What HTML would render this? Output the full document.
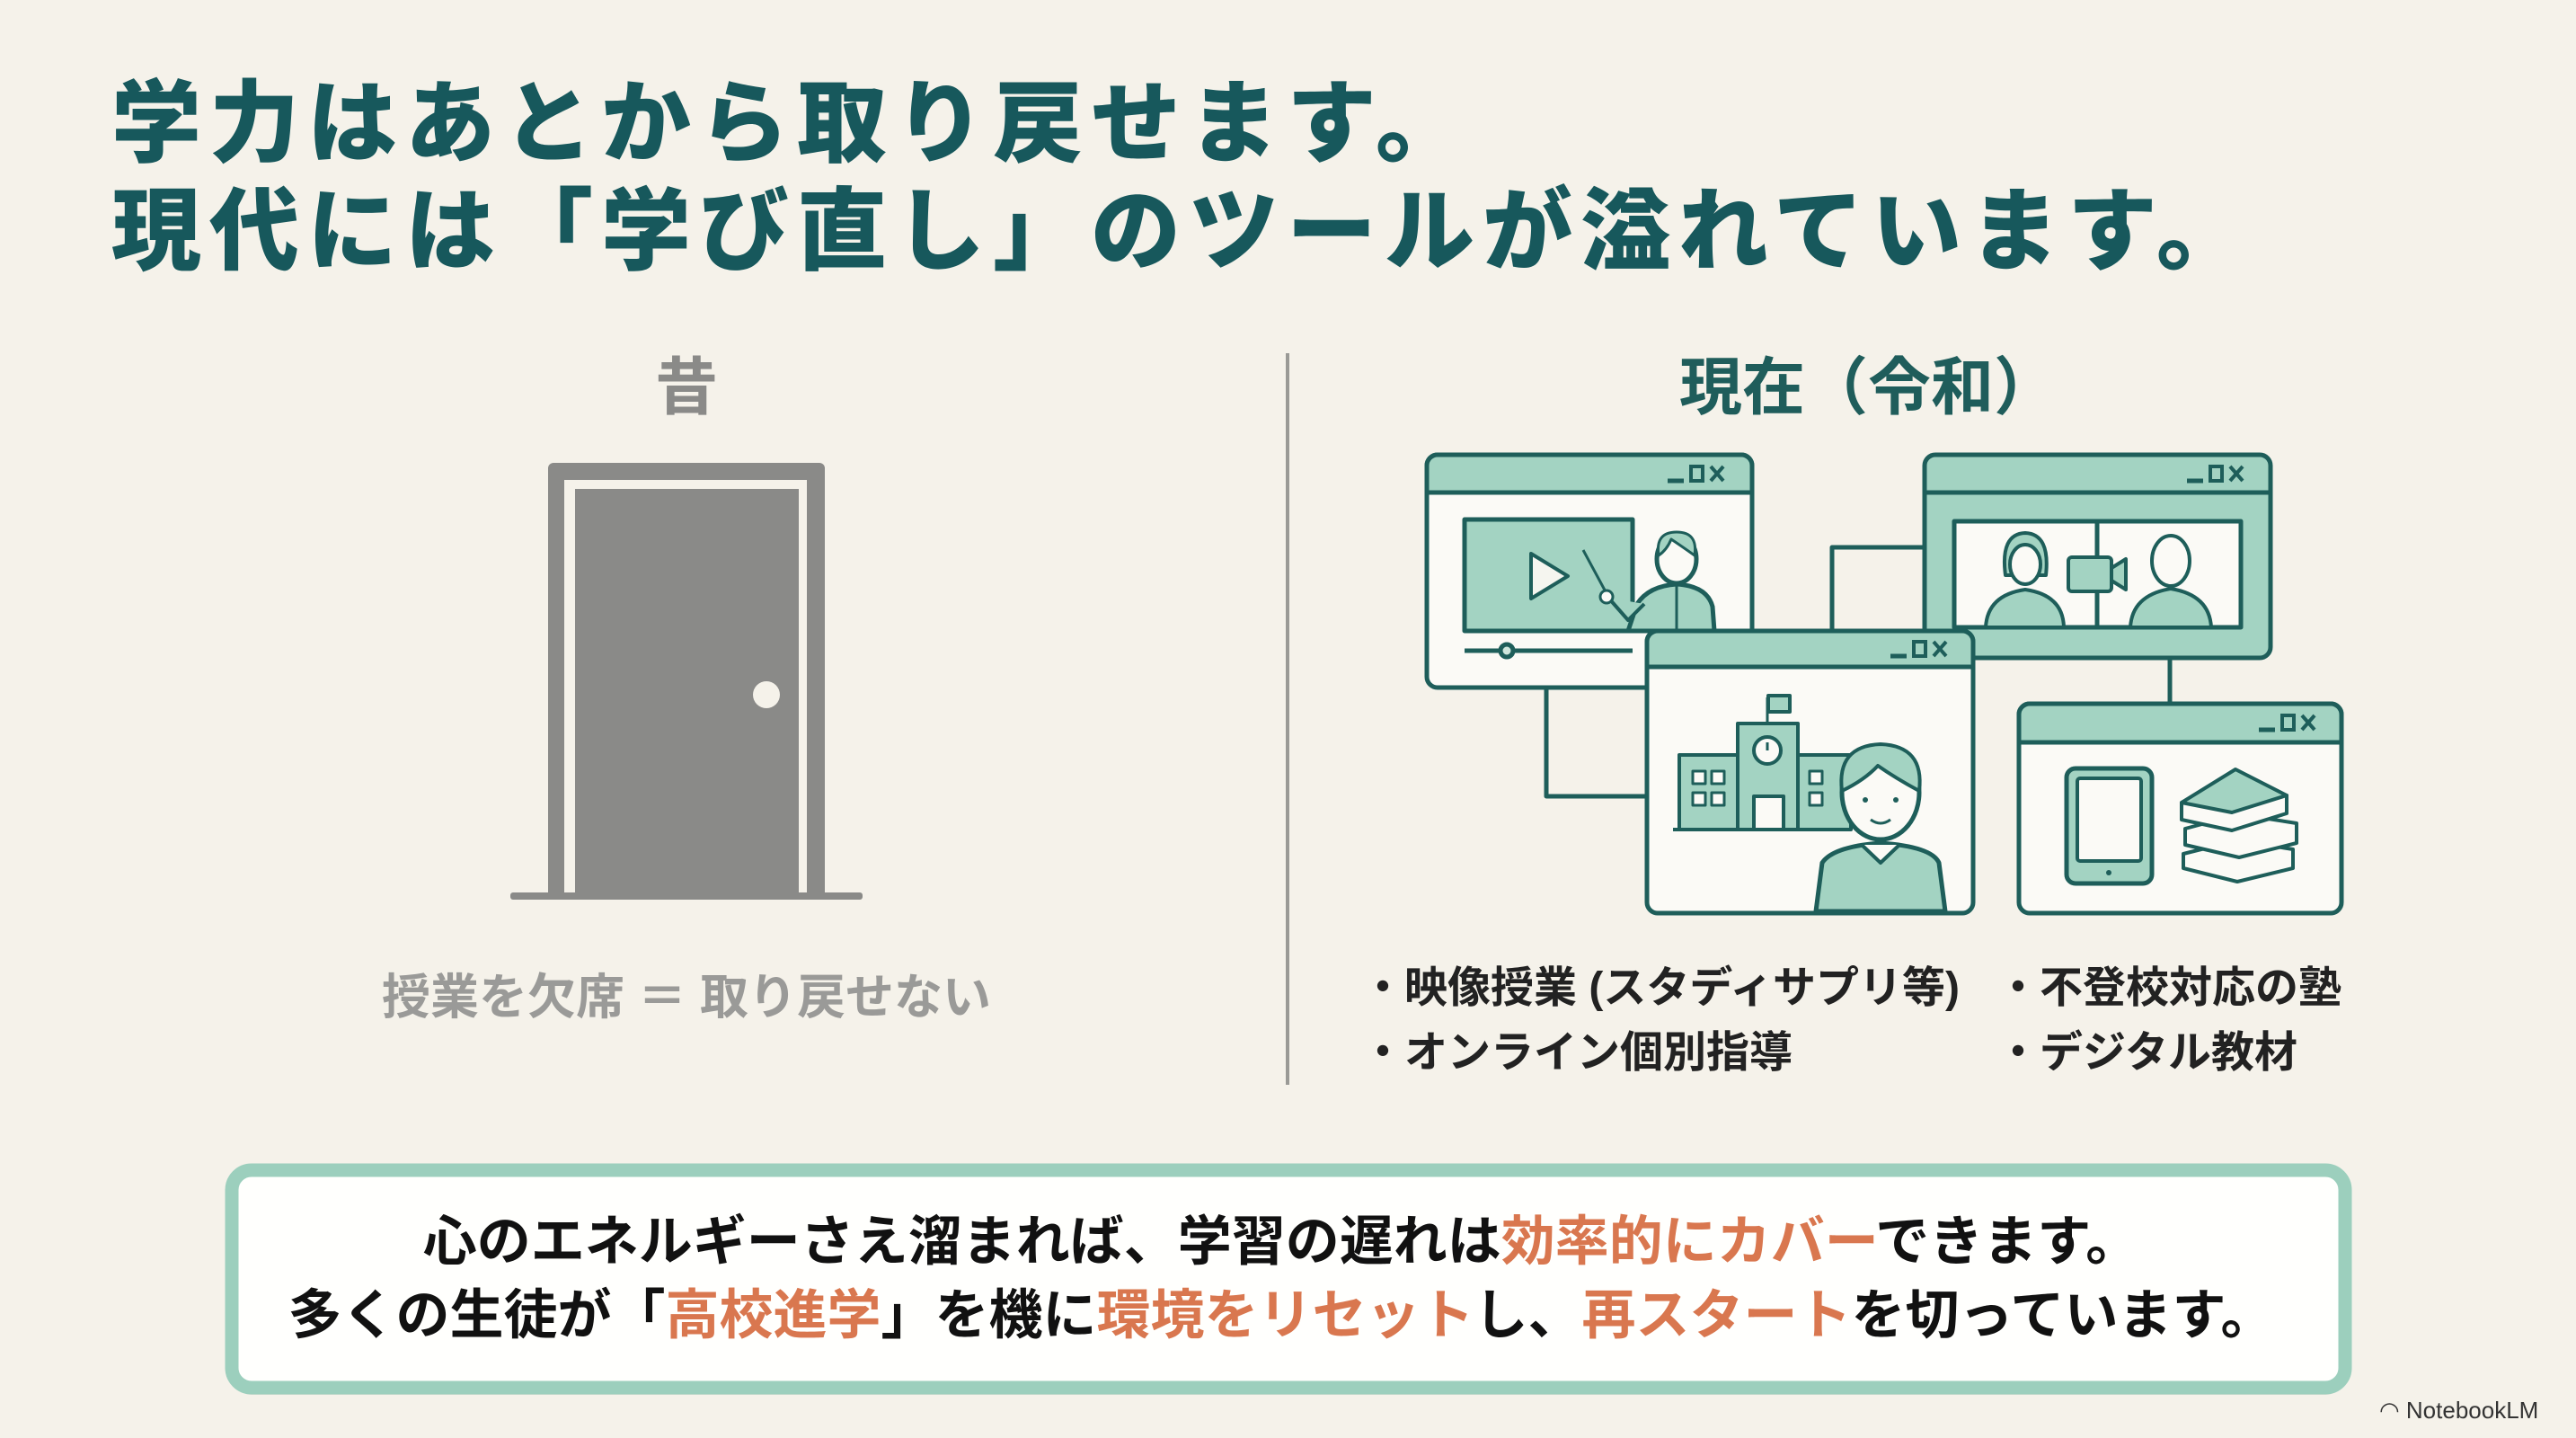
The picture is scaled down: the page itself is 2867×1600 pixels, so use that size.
<!DOCTYPE html>
<html><head><meta charset="utf-8">
<style>
html,body{margin:0;padding:0;background:#f5f2ea;}
body{width:2867px;height:1600px;overflow:hidden;position:relative;font-family:"Liberation Sans","Noto Sans CJK JP",sans-serif;}
svg{position:absolute;left:0;top:0;}
</style></head><body>
<svg width="2867" height="1600" viewBox="0 0 2867 1600" xmlns="http://www.w3.org/2000/svg" font-family="'Liberation Sans','Noto Sans CJK JP',sans-serif">
<defs>
<g id="ctl" stroke="#1e5e5a" stroke-width="4" fill="none">
<line x1="0" y1="20" x2="18" y2="20" stroke-width="5"/>
<rect x="26" y="4" width="13" height="16"/>
<line x1="48" y1="4" x2="62" y2="20"/><line x1="62" y1="4" x2="48" y2="20"/>
</g>
</defs>
<g fill="#17585c" font-weight="900" font-size="100" letter-spacing="9">
<text x="124" y="172">学力はあとから取り戻せます。</text>
<text x="124" y="292">現代には「学び直し」のツールが溢れています。</text>
</g>
<line x1="1433" y1="393" x2="1433" y2="1207" stroke="#9a9a96" stroke-width="4"/>
<text x="764" y="455" text-anchor="middle" font-size="70" font-weight="bold" fill="#8a8a88">昔</text>
<text x="2079" y="455" text-anchor="middle" font-size="70" font-weight="bold" fill="#1f5d5b">現在（令和）</text>
<rect x="610" y="515" width="308" height="485" rx="6" fill="#8a8a88"/>
<rect x="628" y="534" width="270" height="466" fill="#f5f2ea"/>
<rect x="640" y="544" width="249" height="456" fill="#8a8a88"/>
<rect x="568" y="993" width="392" height="8" rx="3" fill="#8a8a88"/>
<circle cx="853" cy="773" r="15" fill="#f5f2ea"/>
<text x="764" y="1128" text-anchor="middle" font-size="54" font-weight="bold" fill="#9a9a98">授業を欠席 ＝ 取り戻せない</text>

<g stroke="#1e5e5a" stroke-width="5" fill="none" stroke-linejoin="round">
<polyline points="1721,765 1721,886 1833,886"/>
<polyline points="2039,702 2039,609 2142,609"/>
<line x1="2415" y1="732" x2="2415" y2="783"/>
</g>

<g stroke="#1e5e5a" stroke-width="5" stroke-linejoin="round">
<rect x="1588" y="506" width="362" height="259" rx="12" fill="#fbfaf6"/>
<path d="M1600,506 H1938 A12,12 0 0 1 1950,518 V548 H1588 V518 A12,12 0 0 1 1600,506Z" fill="#a3d3c2"/>
<rect x="1630" y="578" width="187" height="124" fill="#a3d3c2"/>
<path d="M1704,616 L1745,641 L1704,666Z" fill="#f5f5ef" stroke-width="4"/>
<line x1="1630" y1="724" x2="1817" y2="724"/>
<circle cx="1677" cy="724" r="7" fill="#cfe6dc"/>
<line x1="1762" y1="612" x2="1790" y2="664" stroke-width="3"/>
<path d="M1812,702 L1822,672 Q1835,652 1866,650 Q1900,652 1906,675 L1908,702Z" fill="#a3d3c2"/>
<path d="M1790,665 L1812,690 L1830,672" fill="#a3d3c2" stroke-width="4"/>
<circle cx="1788" cy="664" r="7" fill="#fbfaf6" stroke-width="3"/>
<ellipse cx="1866" cy="622" rx="22" ry="27" fill="#fbfaf6"/>
<path d="M1846,618 Q1842,592 1866,592 Q1890,592 1886,618 Q1872,608 1860,600 Q1855,612 1846,618Z" fill="#a3d3c2" stroke-width="3"/>
<line x1="1866" y1="652" x2="1866" y2="700" stroke-width="3"/>

<rect x="2142" y="506" width="385" height="226" rx="12" fill="#a3d3c2"/>
<line x1="2142" y1="548" x2="2527" y2="548"/>
<rect x="2175" y="580" width="319" height="118" fill="#fbfaf6"/>
<line x1="2334" y1="580" x2="2334" y2="698"/>
<path d="M2232,640 Q2226,594 2254,593 Q2282,594 2277,640Z" fill="#a3d3c2" stroke-width="4"/>
<path d="M2210,698 Q2212,662 2254,656 Q2296,662 2297,698Z" fill="#a3d3c2" stroke-width="4"/>
<ellipse cx="2254" cy="628" rx="17" ry="22" fill="#fbfaf6" stroke-width="4"/>
<path d="M2371,698 Q2373,662 2416,655 Q2459,662 2461,698Z" fill="#a3d3c2" stroke-width="4"/>
<ellipse cx="2416" cy="624" rx="21" ry="28" fill="#fbfaf6" stroke-width="4"/>
<rect x="2302" y="620" width="48" height="38" rx="4" fill="#a3d3c2" stroke-width="4"/>
<path d="M2350,632 L2366,622 L2366,656 L2350,646Z" fill="#a3d3c2" stroke-width="4"/>

<rect x="1833" y="702" width="363" height="314" rx="12" fill="#fbfaf6"/>
<path d="M1845,702 H2184 A12,12 0 0 1 2196,714 V742 H1833 V714 A12,12 0 0 1 1845,702Z" fill="#a3d3c2"/>
<rect x="1869" y="840" width="191" height="83" fill="#a3d3c2" stroke-width="4"/>
<rect x="1934" y="805" width="67" height="118" fill="#a3d3c2" stroke-width="4"/>
<circle cx="1967" cy="835" r="15" fill="#fbfaf6" stroke-width="4"/>
<line x1="1967" y1="826" x2="1967" y2="835" stroke-width="3"/>
<rect x="1952" y="886" width="33" height="37" fill="#fbfaf6" stroke-width="4"/>
<line x1="1967" y1="805" x2="1967" y2="776" stroke-width="3"/>
<rect x="1968" y="774" width="24" height="18" fill="#a3d3c2" stroke-width="4"/>
<g stroke-width="3" fill="#fbfaf6">
<rect x="1884" y="858" width="14" height="14"/><rect x="1905" y="858" width="14" height="14"/>
<rect x="1884" y="882" width="14" height="14"/><rect x="1905" y="882" width="14" height="14"/>
<rect x="2014" y="858" width="14" height="14"/><rect x="2014" y="882" width="14" height="14"/>
</g>
<line x1="1862" y1="923" x2="2060" y2="923" stroke-width="4"/>
<path d="M2021,1014 L2028,960 Q2040,942 2093,938 Q2150,942 2158,960 L2165,1014Z" fill="#a3d3c2"/>
<path d="M2072,940 L2093,960 L2114,940" fill="#fbfaf6" stroke-width="4"/>
<ellipse cx="2093" cy="882" rx="43" ry="52" fill="#fbfaf6"/>
<path d="M2050,880 Q2044,830 2093,828 Q2142,830 2136,880 Q2110,866 2090,852 Q2075,868 2050,880Z" fill="#a3d3c2" stroke-width="4"/>
<circle cx="2076" cy="890" r="3" fill="#1e5e5a" stroke="none"/>
<circle cx="2110" cy="890" r="3" fill="#1e5e5a" stroke="none"/>
<path d="M2082,912 Q2093,920 2104,912" fill="none" stroke-width="3"/>

<rect x="2247" y="783" width="359" height="233" rx="12" fill="#fbfaf6"/>
<path d="M2259,783 H2594 A12,12 0 0 1 2606,795 V826 H2247 V795 A12,12 0 0 1 2259,783Z" fill="#a3d3c2"/>
<rect x="2300" y="855" width="95" height="128" rx="10" fill="#a3d3c2"/>
<rect x="2312" y="866" width="71" height="92" rx="3" fill="#fbfaf6" stroke-width="4"/>
<circle cx="2347" cy="971" r="3" fill="#1e5e5a" stroke="none"/>
<path d="M2430,950 L2490,935 L2552,945 L2552,966 L2490,981 L2430,966Z" fill="#fbfaf6" stroke-width="4"/>
<path d="M2432,922 L2492,906 L2556,916 L2556,938 L2492,954 L2432,940Z" fill="#fbfaf6" stroke-width="4"/>
<path d="M2428,893 L2484,874 L2545,885 L2545,905 L2484,924 L2428,912Z" fill="#fbfaf6" stroke-width="4"/>
<path d="M2428,893 L2488,856 L2545,885 L2484,904Z" fill="#a3d3c2" stroke-width="4"/>
</g>
<use href="#ctl" x="1856" y="515"/>
<use href="#ctl" x="2434" y="515"/>
<use href="#ctl" x="2104" y="710"/>
<use href="#ctl" x="2514" y="792"/>

<g font-size="48" font-weight="bold" fill="#222">
<text x="1515" y="1115">・映像授業 (スタディサプリ等)</text>
<text x="1515" y="1187">・オンライン個別指導</text>
<text x="2222" y="1115">・不登校対応の塾</text>
<text x="2222" y="1187">・デジタル教材</text>
</g>

<rect x="258" y="1310" width="2352" height="242" rx="22" fill="#b8b0a0" opacity="0.25"/>
<rect x="258" y="1302" width="2352" height="242" rx="22" fill="#fffffd" stroke="#9ccfbd" stroke-width="15"/>
<g font-size="60" font-weight="bold" fill="#111" text-anchor="middle">
<text x="1426" y="1402">心のエネルギーさえ溜まれば、学習の遅れは<tspan fill="#d9774f">効率的にカバー</tspan>できます。</text>
<text x="1426" y="1484">多くの生徒が「<tspan fill="#d9774f">高校進学</tspan>」を機に<tspan fill="#d9774f">環境をリセット</tspan>し、<tspan fill="#d9774f">再スタート</tspan>を切っています。</text>
</g>
<text x="2648" y="1578" font-size="26" fill="#333">◠ NotebookLM</text>
</svg>
</body></html>
